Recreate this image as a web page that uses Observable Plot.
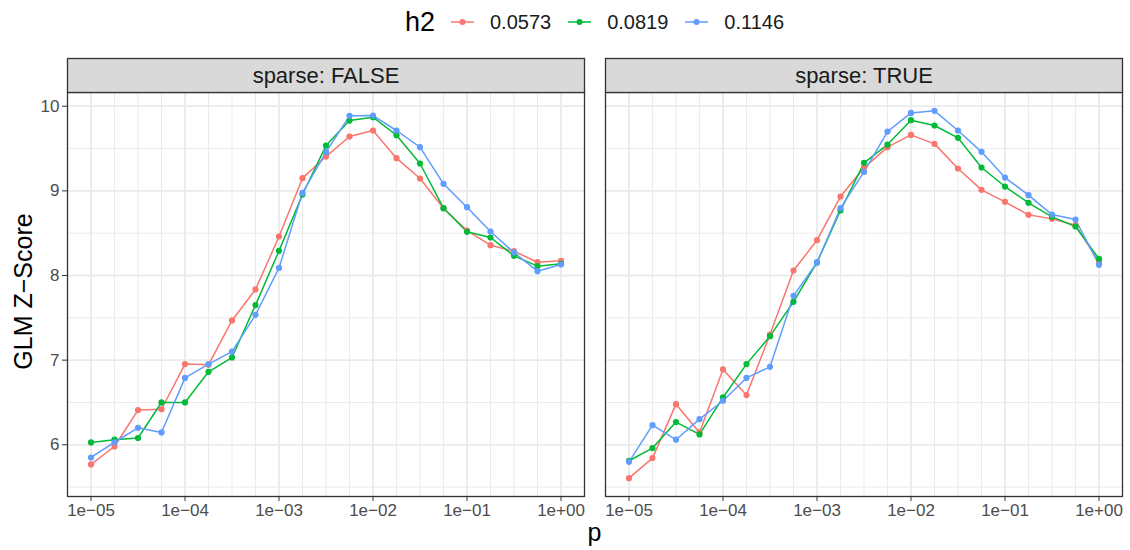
<!DOCTYPE html>
<html>
<head>
<meta charset="utf-8">
<script src="https://cdn.jsdelivr.net/npm/d3@7"></script>
<script src="https://cdn.jsdelivr.net/npm/@observablehq/plot@0.6"></script>
<style>
  html, body { margin: 0; padding: 0; background: #fff; }
  body { font-family: "Liberation Sans", Arial, Helvetica, sans-serif; }
  #wrap { width: 1130px; height: 550px; overflow: hidden; background: #fff; }
  #legend { height: 44px; margin-left: 67px; width: 1055px; display: flex; align-items: center; justify-content: center; }
  #legend .title { font-size: 27px; color: #000; margin-right: 16px; line-height: 1; }
  #legend .item { display: flex; align-items: center; margin-right: 17px; }
  #legend .item:last-child { margin-right: 0; }
  #legend .item span { font-size: 20px; color: #1A1A1A; margin-left: 16px; line-height: 1; }
  #xtitle { height: 28px; line-height: 21px; margin-left: 67px; width: 1055px; text-align: center; font-size: 25px; color: #000; }
  svg { display: block; }
</style>
</head>
<body>
<div id="wrap">
  <div id="legend"></div>
  <div id="chart"></div>
  <div id="xtitle">p</div>
</div>
<script>
// ---- data ----
const pValues = [1e-5, 1.778e-5, 3.162e-5, 5.623e-5,
                 1e-4, 1.778e-4, 3.162e-4, 5.623e-4,
                 1e-3, 1.778e-3, 3.162e-3, 5.623e-3,
                 1e-2, 1.778e-2, 3.162e-2, 5.623e-2,
                 1e-1, 0.1778, 0.3162, 0.5623, 1];
const h2Levels = ["0.0573", "0.0819", "0.1146"];
const h2Colors = ["#F8766D", "#00BA38", "#619CFF"];
const sparseLevels = ["FALSE", "TRUE"];

// sparse: FALSE
const zFalse0573 = [5.768, 5.98, 6.41, 6.42, 6.953, 6.945, 7.469, 7.835, 8.461, 9.15, 9.405, 9.642, 9.713, 9.386, 9.146, 8.795, 8.531, 8.358, 8.287, 8.157, 8.173];
const zFalse0819 = [6.028, 6.06, 6.08, 6.5, 6.5, 6.862, 7.031, 7.65, 8.291, 8.957, 9.535, 9.83, 9.87, 9.657, 9.323, 8.795, 8.516, 8.449, 8.232, 8.11, 8.138];
const zFalse1146 = [5.85, 6.03, 6.2, 6.146, 6.79, 6.953, 7.10, 7.535, 8.09, 8.976, 9.457, 9.886, 9.89, 9.713, 9.516, 9.083, 8.807, 8.52, 8.272, 8.051, 8.13];
// sparse: TRUE
const zTrue0573 = [5.606, 5.843, 6.48, 6.146, 6.89, 6.587, 7.303, 8.059, 8.417, 8.933, 9.272, 9.516, 9.661, 9.555, 9.264, 9.012, 8.87, 8.717, 8.669, 8.594, 8.16];
const zTrue0819 = [5.811, 5.961, 6.268, 6.122, 6.559, 6.953, 7.283, 7.689, 8.154, 8.768, 9.331, 9.547, 9.835, 9.772, 9.626, 9.276, 9.051, 8.858, 8.693, 8.579, 8.197];
const zTrue1146 = [5.799, 6.232, 6.06, 6.303, 6.52, 6.79, 6.921, 7.76, 8.154, 8.795, 9.224, 9.70, 9.921, 9.945, 9.713, 9.461, 9.157, 8.949, 8.72, 8.661, 8.126];

const xTicks = [1e-5, 1e-4, 1e-3, 1e-2, 1e-1, 1];
const yTicks = [6, 7, 8, 9, 10];
const yMinor = [5.5, 6.5, 7.5, 8.5, 9.5];

// ---- build table ----
const seriesTable = [
  ["FALSE", "0.0573", zFalse0573], ["FALSE", "0.0819", zFalse0819], ["FALSE", "0.1146", zFalse1146],
  ["TRUE", "0.0573", zTrue0573], ["TRUE", "0.0819", zTrue0819], ["TRUE", "0.1146", zTrue1146]
];
const rows = [];
for (const [sparse, h2, zs] of seriesTable) {
  zs.forEach((z, i) => rows.push({sparse, h2, p: pValues[i], z}));
}

// ggplot-like 5% expansion
const [zmin, zmax] = d3.extent(rows, d => d.z);
const zpad = (zmax - zmin) * 0.05;
const yDomain = [zmin - zpad, zmax + zpad];
const lx0 = Math.log10(d3.min(pValues)), lx1 = Math.log10(d3.max(pValues));
const lpad = (lx1 - lx0) * 0.05;
const xDomain = [10 ** (lx0 - lpad), 10 ** (lx1 + lpad)];

const fmtP = d => {
  const e = Math.round(Math.log10(d));
  return "1e" + (e < 0 ? "\u2212" : "+") + String(Math.abs(e)).padStart(2, "0");
};

// ---- legend ----
const legend = document.getElementById("legend");
const t = document.createElement("div");
t.className = "title"; t.textContent = "h2";
legend.appendChild(t);
h2Levels.forEach((lv, i) => {
  const it = document.createElement("div");
  it.className = "item";
  it.innerHTML = `<svg width="23" height="12"><line x1="0" x2="23" y1="6" y2="6" stroke="${h2Colors[i]}" stroke-width="1.5"/><circle cx="11.5" cy="6" r="3" fill="${h2Colors[i]}"/></svg><span>${lv}</span>`;
  legend.appendChild(it);
});

// ---- chart ----
const W = 1130, H = 478, mt = 48, mb = 26, ml = 67, mr = 8;
const panelH = H - mt - mb;
const stripH = 34;
const stripData = sparseLevels.map(s => ({sparse: s}));

const chart = Plot.plot({
  width: W, height: H,
  marginTop: mt, marginBottom: mb, marginLeft: ml, marginRight: mr,
  style: {fontFamily: "'Liberation Sans', Arial, Helvetica, sans-serif", fontSize: "17px", background: "white", overflow: "visible"},
  fx: {domain: sparseLevels, paddingInner: 0.0398, paddingOuter: 0, axis: null, label: null},
  x: {type: "log", domain: xDomain},
  y: {domain: yDomain},
  color: {domain: h2Levels, range: h2Colors},
  marks: [
    Plot.gridY(yMinor, {stroke: "#EBEBEB", strokeOpacity: 1, strokeWidth: 1}),
    Plot.gridX(pValues, {stroke: "#EBEBEB", strokeOpacity: 1, strokeWidth: 1}),
    Plot.gridY(yTicks, {stroke: "#EBEBEB", strokeOpacity: 1, strokeWidth: 1.8}),
    Plot.gridX(xTicks, {stroke: "#EBEBEB", strokeOpacity: 1, strokeWidth: 1.8}),
    Plot.line(rows, {x: "p", y: "z", z: "h2", stroke: "h2", fx: "sparse", strokeWidth: 1.5}),
    Plot.dot(rows, {x: "p", y: "z", fill: "h2", fx: "sparse", r: 3.1, stroke: null}),
    Plot.frame({stroke: "#333333", strokeWidth: 1.3, fill: "none"}),
    Plot.frame({fill: "#D9D9D9", stroke: "#333333", strokeWidth: 1.3, insetTop: -stripH, insetBottom: panelH}),
    Plot.text(stripData, {fx: "sparse", text: d => "sparse: " + d.sparse, frameAnchor: "top", dy: -stripH / 2, fontSize: 22, fill: "#1A1A1A", lineAnchor: "middle"}),
    Plot.text(["GLM Z\u2212Score"], {fx: ["FALSE"], text: d => d, frameAnchor: "left", rotate: -90, dx: -43.5, dy: -3, fontSize: 25, fill: "#000", lineAnchor: "middle", textAnchor: "middle"}),
    Plot.axisY({ticks: yTicks, tickFormat: d => String(d), tickSize: 5, tickPadding: 3, fontSize: 17, fill: "#4D4D4D", stroke: "#333333", label: null}),
    Plot.axisX({ticks: xTicks, tickFormat: fmtP, tickSize: 5, tickPadding: 2, fontSize: 17, fill: "#4D4D4D", stroke: "#333333", label: null})
  ]
});
document.getElementById("chart").appendChild(chart);
</script>
</body>
</html>
